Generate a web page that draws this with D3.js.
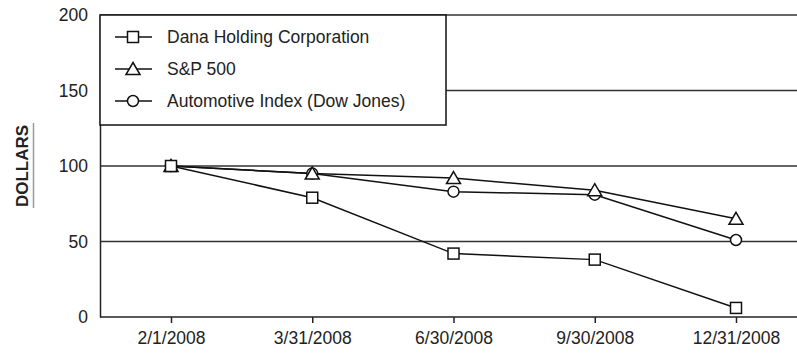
<!DOCTYPE html>
<html>
<head>
<meta charset="utf-8">
<script src="https://cdn.jsdelivr.net/npm/d3@7"></script>
<style>
  body { margin: 0; background: #fff; }
  text { font-family: "Liberation Sans", Arial, sans-serif; fill: #222; }
</style>
</head>
<body>
<svg id="chart" width="797" height="354"></svg>
<script>
// data
const dates = ['2/1/2008', '3/31/2008', '6/30/2008', '9/30/2008', '12/31/2008'];
const danaValues = [100, 79, 42, 38, 6];
const spValues = [100, 95, 92, 84, 65];
const autoValues = [100, 95, 83, 81, 51];
const yTicks = [0, 50, 100, 150, 200];
const seriesNames = ['Dana Holding Corporation', 'S&P 500', 'Automotive Index (Dow Jones)'];
const seriesSymbols = ['square', 'triangle', 'circle'];

const series = [
    { name: seriesNames[0], symbol: seriesSymbols[0], values: danaValues },
    { name: seriesNames[1], symbol: seriesSymbols[1], values: spValues },
    { name: seriesNames[2], symbol: seriesSymbols[2], values: autoValues }
];

const margin = { top: 15, right: 0, bottom: 37, left: 100 };
const width = 797 - margin.left - margin.right;
const height = 354 - margin.top - margin.bottom;

const svg = d3.select('#chart');
const chart = svg.append('g')
    .attr('transform', `translate(${margin.left}, ${margin.top})`);

// scales
const xScale = d3.scalePoint().domain(dates).range([71, 636]);
const yScale = d3.scaleLinear().domain([0, 200]).range([height, 0]);

// grid lines
chart.append('g')
    .attr('class', 'grid')
    .selectAll('line')
    .data(yTicks.filter(d => d > 0))
    .enter()
    .append('line')
    .attr('x1', 0)
    .attr('x2', width)
    .attr('y1', d => yScale(d))
    .attr('y2', d => yScale(d))
    .style('stroke', '#333')
    .style('stroke-width', 1.5);

// y axis
const yAxis = chart.append('g')
    .attr('class', 'axis axis-y')
    .call(d3.axisLeft(yScale).tickValues(yTicks).tickSize(0).tickPadding(12));
yAxis.select('.domain').style('stroke', '#222').style('stroke-width', 1.5);
yAxis.selectAll('text').style('font-size', '17.5px').style('fill', '#222');

// x axis
const xAxis = chart.append('g')
    .attr('class', 'axis axis-x')
    .attr('transform', `translate(0, ${height})`)
    .call(d3.axisBottom(xScale).tickSize(6).tickPadding(9).tickSizeOuter(0));
xAxis.select('.domain').attr('d', `M0,0H${width}`).style('stroke', '#222').style('stroke-width', 1.5);
xAxis.selectAll('.tick line').style('stroke', '#222').style('stroke-width', 1.5);
xAxis.selectAll('text').style('font-size', '17.5px').style('fill', '#222');

// lines
const line = d3.line()
    .x((d, i) => xScale(dates[i]))
    .y(d => yScale(d));

chart.append('g')
    .attr('class', 'lines')
    .selectAll('path')
    .data(series)
    .enter()
    .append('path')
    .attr('d', d => line(d.values))
    .style('fill', 'none')
    .style('stroke', '#111')
    .style('stroke-width', 1.5);

// markers
function drawMarker(sel, symbol) {
    if (symbol === 'square') {
        sel.append('rect').attr('x', -5.5).attr('y', -5.5).attr('width', 11).attr('height', 11);
    } else if (symbol === 'triangle') {
        sel.append('path').attr('d', 'M0,-6.5L7,5.5L-7,5.5Z');
    } else {
        sel.append('circle').attr('r', 5.5);
    }
    sel.selectAll('*')
        .style('fill', '#fff')
        .style('stroke', '#111')
        .style('stroke-width', 1.5);
}

series.slice().reverse().forEach(s => {
    chart.append('g')
        .selectAll('g')
        .data(s.values)
        .enter()
        .append('g')
        .attr('transform', (d, i) => `translate(${xScale(dates[i])}, ${yScale(d)})`)
        .each(function () { drawMarker(d3.select(this), s.symbol); });
});

// legend
const legend = chart.append('g').attr('class', 'legend');
legend.append('rect')
    .attr('x', 0)
    .attr('y', 0)
    .attr('width', 346)
    .attr('height', 110)
    .style('fill', '#fff')
    .style('stroke', '#111')
    .style('stroke-width', 1.5);

const items = legend.selectAll('.item')
    .data(series)
    .enter()
    .append('g')
    .attr('class', 'item')
    .attr('transform', (d, i) => `translate(0, ${22 + i * 32})`);

items.append('line')
    .attr('x1', 15)
    .attr('x2', 52)
    .style('stroke', '#111')
    .style('stroke-width', 1.5);
items.each(function (d) {
    const g = d3.select(this).append('g').attr('transform', 'translate(33, 0)');
    drawMarker(g, d.symbol);
});
items.append('text')
    .attr('x', 67)
    .attr('dy', '0.35em')
    .style('font-size', '17.5px')
    .text(d => d.name);

// y label
svg.append('text')
    .attr('transform', 'translate(27.5, 166) rotate(-90)')
    .attr('text-anchor', 'middle')
    .style('font-size', '17px')
    .style('font-weight', 'bold')
    .text('DOLLARS');
svg.append('line')
    .attr('x1', 33.5)
    .attr('x2', 33.5)
    .attr('y1', 123)
    .attr('y2', 208)
    .style('stroke', '#999')
    .style('stroke-width', 1.5);
</script>
</body>
</html>
